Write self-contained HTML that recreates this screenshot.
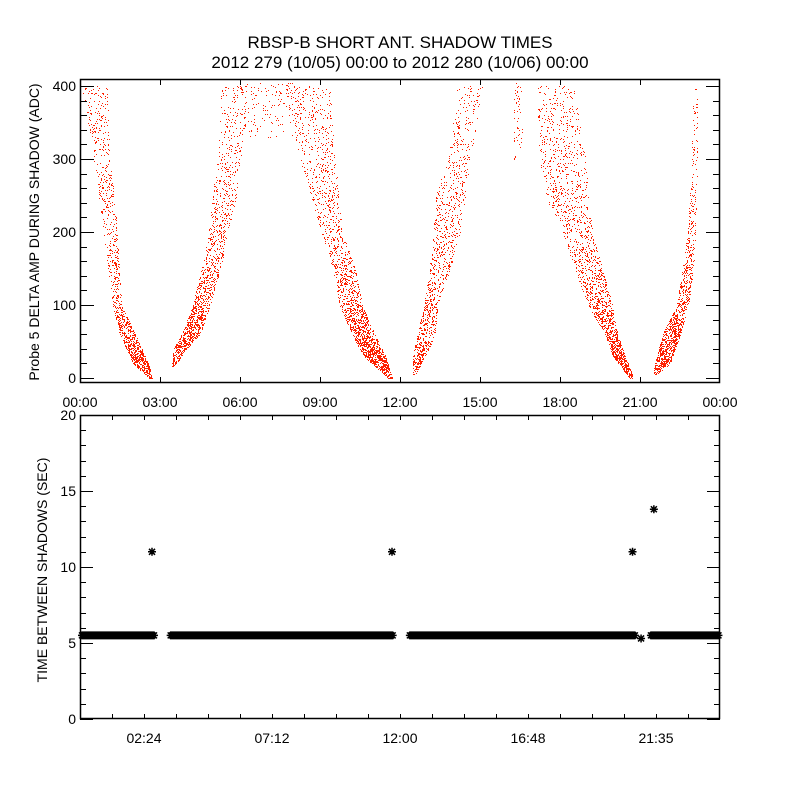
<!DOCTYPE html>
<html><head><meta charset="utf-8"><style>
html,body{margin:0;padding:0;background:#fff;}
svg{display:block;font-family:"Liberation Sans",sans-serif;}
</style></head><body>
<svg id="chart" width="800" height="800" viewBox="0 0 800 800">
<rect width="800" height="800" fill="#fff"/>
<text x="400" y="48" font-size="17" text-anchor="middle">RBSP-B SHORT ANT. SHADOW TIMES</text>
<text x="400" y="68" font-size="17" text-anchor="middle">2012 279 (10/05) 00:00 to 2012 280 (10/06) 00:00</text>
<g id="topPanel"></g>
<g id="botPanel"></g>
</svg>
<script>
// ---- Top panel data: arcs of scattered amplitudes (value, left hour, right hour, density)
const arcA_vals=[400,300,200,100,60,20,0];
const arcA_left=[0.08,0.52,0.9,1.24,1.5,2.0,2.59];
const arcA_right=[1.01,1.12,1.39,1.54,2.06,2.55,2.7];
const arcA_dens=[0.08,0.1,0.15,0.25,0.45,0.6,0.6];
const arcB_vals=[400,350,300,250,200,150,100,60,40,15];
const arcB_left=[5.32,5.25,5.14,4.99,4.84,4.57,4.24,3.82,3.52,3.45];
const arcB_right=[6.22,6.19,6.0,5.85,5.55,5.25,4.87,4.5,3.97,3.52];
const arcB_dens=[0.08,0.08,0.1,0.14,0.18,0.22,0.35,0.5,0.6,0.6];
const plat1_vals=[405,330];
const plat1_left=[6.0,6.0];
const plat1_right=[8.25,8.25];
const plat1_dens=[0.06,0.03];
const arcC_vals=[400,300,200,150,100,60,30,0];
const arcC_left=[7.69,8.25,9.07,9.49,9.75,10.2,10.65,11.55];
const arcC_right=[9.37,9.56,9.82,10.31,10.57,11.06,11.44,11.7];
const arcC_dens=[0.07,0.1,0.17,0.22,0.32,0.45,0.6,0.6];
const arcD_vals=[400,350,300,250,200,150,100,60,30,5];
const arcD_left=[14.17,13.99,13.8,13.35,13.27,13.12,12.9,12.67,12.49,12.49];
const arcD_right=[15.07,14.85,14.62,14.44,14.25,13.87,13.39,13.31,12.94,12.56];
const arcD_dens=[0.07,0.08,0.1,0.13,0.14,0.17,0.22,0.3,0.45,0.5];
const plat2_vals=[405,300];
const plat2_left=[16.27,16.27];
const plat2_right=[16.57,16.57];
const plat2_dens=[0.08,0.05];
const arcE_vals=[400,300,250,200,150,100,60,30,0];
const arcE_left=[17.14,17.25,17.44,18.11,18.56,19.05,19.69,19.99,20.62];
const arcE_right=[18.49,18.94,19.05,19.2,19.57,19.95,20.14,20.44,20.74];
const arcE_dens=[0.08,0.09,0.11,0.15,0.2,0.28,0.45,0.6,0.6];
const arcF_vals=[400,300,200,150,100,60,20,5];
const arcF_left=[23.02,22.95,22.8,22.61,22.39,21.86,21.56,21.52];
const arcF_right=[23.14,23.14,23.06,22.99,22.8,22.5,22.12,21.6];
const arcF_dens=[0.1,0.1,0.2,0.3,0.4,0.5,0.55,0.55];
const topYTicks=[0,100,200,300,400];
const topXTickLabels=["00:00","03:00","06:00","09:00","12:00","15:00","18:00","21:00","00:00"];

// ---- Bottom panel data
const bandStart=[0.075,3.4,12.37,21.41];
const bandEnd=[2.78,11.78,20.85,23.99];
const bandValue=[5.5,5.5,5.5,5.5];
const outlierHours=[2.7,11.7,20.72,21.04,21.52];
const outlierValues=[11,11,11,5.3,13.8];
const botYTicks=[0,5,10,15,20];
const botXTickHours=[2.4,7.2,12,16.8,21.6];
const botXTickLabels=["02:24","07:12","12:00","16:48","21:35"];

const NS="http://www.w3.org/2000/svg";
function mk(tag,attrs,parent){const e=document.createElementNS(NS,tag);for(const k in attrs)e.setAttribute(k,attrs[k]);parent.appendChild(e);return e;}
const L=80,R=720;
const xH=h=>L+h*(R-L)/24;
const T1=79,B1=383;
const yTop=v=>378-v*0.73;
const T2=415,B2=719;
const yBot=v=>B2-v*(B2-T2)/20;

const topG=document.getElementById('topPanel');
const botG=document.getElementById('botPanel');

function interp(vals,arr,v){
  for(let i=0;i<vals.length-1;i++){
    const a=vals[i],b=vals[i+1];
    if(v<=a&&v>=b){const t=(a-v)/((a-b)||1);return arr[i]+(arr[i+1]-arr[i])*t;}
  }
  return null;
}
let dots="";
function arc(vals,lf,rt,dn,seed){
  const yA=Math.round(yTop(vals[0])),yB=Math.round(yTop(vals[vals.length-1]));
  for(let y=yA;y<=yB;y++){
    const v=(378-y)/0.73;
    const hl=interp(vals,lf,v),hr=interp(vals,rt,v),d=interp(vals,dn,v);
    if(hl===null)continue;
    const x0=Math.round(xH(hl)),x1=Math.round(xH(hr));
    for(let x=x0;x<=x1;x++){
      const hsh=((x*73856093)^(y*19349663)^(seed*83492791))>>>0;
      if((hsh%1000)/1000<d) dots+="M"+x+" "+y+"h1v1h-1z";
    }
  }
}
arc(arcA_vals,arcA_left,arcA_right,arcA_dens,11);
arc(arcB_vals,arcB_left,arcB_right,arcB_dens,23);
arc(plat1_vals,plat1_left,plat1_right,plat1_dens,37);
arc(arcC_vals,arcC_left,arcC_right,arcC_dens,41);
arc(arcD_vals,arcD_left,arcD_right,arcD_dens,53);
arc(plat2_vals,plat2_left,plat2_right,plat2_dens,67);
arc(arcE_vals,arcE_left,arcE_right,arcE_dens,79);
arc(arcF_vals,arcF_left,arcF_right,arcF_dens,83);
const sc=mk('path',{d:dots,fill:'#ff2000'},topG);



const f1=mk('rect',{x:L+0.5,y:T1+0.5,width:R-L-1,height:B1-T1-1,fill:'none',stroke:'#000','stroke-width':1.5},topG);


let tk="";
for(let v=0;v<=400;v+=20){
  const y=Math.round(yTop(v))+0.5,len=(v%100===0)?14:7;
  tk+=`M${L} ${y}h${len}M${R} ${y}h${-len}`;
}
for(let i=1;i<8;i++){const x=Math.round(xH(i*3))+0.5;tk+=`M${x} ${B1}v-6M${x} ${T1}v6`;}
const t1=mk('path',{d:tk,stroke:'#000','stroke-width':1,fill:'none'},topG);


topYTicks.forEach(v=>{
  const t=mk('text',{x:76,y:yTop(v)+5,'font-size':14,'text-anchor':'end'},topG);t.textContent=v;
  
  
});
topXTickLabels.forEach((s,i)=>{
  const t=mk('text',{x:xH(i*3),y:407,'font-size':14,'text-anchor':'middle'},topG);t.textContent=s;
  
  
});
const yt1=mk('text',{x:0,y:0,'font-size':14,'text-anchor':'middle',transform:'translate(39,232) rotate(-90)'},topG);
yt1.textContent="Probe 5 DELTA AMP DURING SHADOW (ADC)";



let ast="";
function star(x,y){const s=4;ast+=`M${x-s} ${y}h${2*s}M${x} ${y-s}v${2*s}M${x-3} ${y-3}l6 6M${x-3} ${y+3}l6 -6`;}
bandStart.forEach((s,i)=>{
  const x0=xH(s),x1=xH(bandEnd[i]),y=yBot(bandValue[i]);
  for(let x=x0;x<=x1;x+=1.5)star(x,y);
});
outlierHours.forEach((h,i)=>star(xH(h),yBot(outlierValues[i])));
const ap=mk('path',{d:ast,stroke:'#000','stroke-width':1.5,fill:'none'},botG);


const f2=mk('rect',{x:L+0.5,y:T2+0.5,width:R-L-1,height:B2-T2-1,fill:'none',stroke:'#000','stroke-width':1.5},botG);


let tk2="";
for(let v=0;v<=20;v++){const y=Math.round(yBot(v))+0.5,len=(v%5===0)?13:6;tk2+=`M${L} ${y}h${len}M${R} ${y}h${-len}`;}
for(let i=1;i<20;i++){const x=Math.round(xH(i*1.2))+0.5;tk2+=`M${x} ${B2}v-5M${x} ${T2}v5`;}
const t2=mk('path',{d:tk2,stroke:'#000','stroke-width':1,fill:'none'},botG);


botYTicks.forEach(v=>{
  const t=mk('text',{x:76,y:yBot(v)+5,'font-size':14,'text-anchor':'end'},botG);t.textContent=v;
  
  
});
botXTickHours.forEach((h,i)=>{
  const t=mk('text',{x:xH(h),y:743,'font-size':14,'text-anchor':'middle'},botG);t.textContent=botXTickLabels[i];
  
  
});
const yt2=mk('text',{x:0,y:0,'font-size':14,'text-anchor':'middle',transform:'translate(47,570) rotate(-90)'},botG);
yt2.textContent="TIME BETWEEN SHADOWS (SEC)";


</script>
</body></html>
